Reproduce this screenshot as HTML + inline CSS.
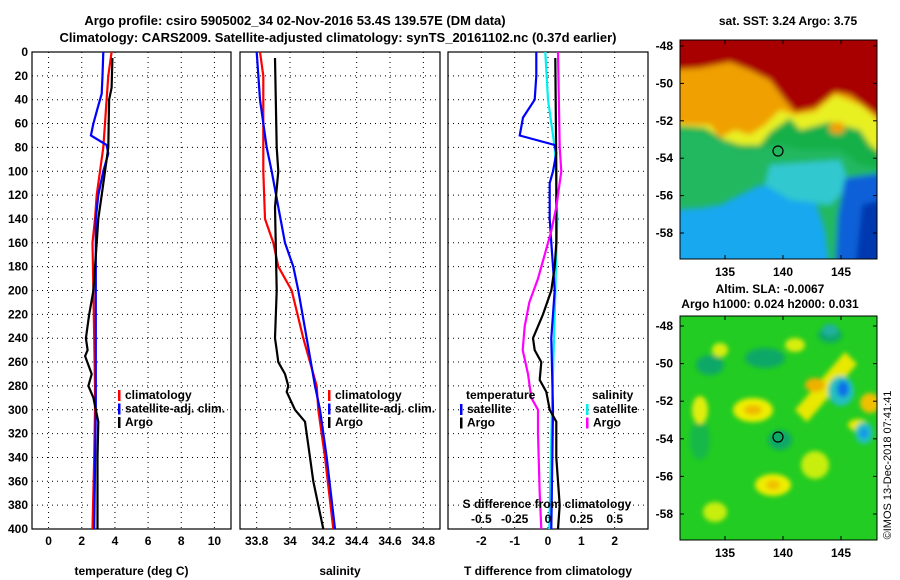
<!DOCTYPE html>
<html><head><meta charset="utf-8"><style>
html,body{margin:0;padding:0;background:#fff;}
svg{display:block;font-family:"Liberation Sans",Arial,sans-serif;font-weight:bold;}
text{font-size:12px;fill:#000;}
</style></head><body>
<svg id="c" width="900" height="580" viewBox="0 0 900 580" xmlns="http://www.w3.org/2000/svg">
<text x="295" y="25" text-anchor="middle" style="font-size:13px">Argo profile: csiro 5905002_34 02-Nov-2016 53.4S 139.57E (DM data)</text>
<text x="338" y="42" text-anchor="middle" style="font-size:13px">Climatology: CARS2009. Satellite-adjusted climatology: synTS_20161102.nc (0.37d earlier)</text>
<g id="plots"></g>

<!-- SST map -->
<g>
<clipPath id="m1"><rect x="680" y="40" width="197" height="219"/></clipPath>
<defs><filter id="bl"><feGaussianBlur stdDeviation="3"/></filter><filter id="bl2"><feGaussianBlur stdDeviation="2.5"/></filter></defs>
<g clip-path="url(#m1)">
<rect x="680" y="40" width="197" height="219" fill="#18a8f0"/>
<g filter="url(#bl)">
<path d="M670 30 H890 V270 H830 L825 230 L815 200 L790 190 L760 185 L740 195 L720 205 L700 208 L670 210 Z" fill="#20b860"/>
<path d="M670 30 H890 V190 L860 180 L840 165 L820 158 L790 160 L770 170 L750 180 L730 185 L700 195 L670 195 Z" fill="#20b860"/>
<path d="M770 165 L840 160 L850 185 L830 205 L790 200 L765 185 Z" fill="#30c8d0"/>
<path d="M845 178 L890 172 V270 H835 L838 215 Z" fill="#1060d8"/>
<path d="M862 205 L890 198 V270 H855 Z" fill="#0038b0"/>
<path d="M670 30 H890 V170 L860 165 L840 150 L800 150 L780 145 L760 148 L740 150 L720 140 L700 132 L670 128 Z" fill="#18b048"/>
<path d="M670 30 H890 V160 L870 145 L860 130 L830 122 L800 130 L790 118 L770 132 L760 145 L740 145 L725 140 L705 128 L670 125 Z" fill="#e8f020"/>
<path d="M670 30 H890 V130 L860 105 L835 95 L815 112 L795 115 L780 110 L765 125 L750 135 L735 130 L720 138 L710 125 L690 125 L670 122 Z" fill="#f0a000"/>
<path d="M670 30 H890 V125 L870 110 L850 95 L835 92 L815 108 L795 112 L785 100 L770 80 L750 70 L730 62 L700 68 L670 70 Z" fill="#a80000"/>
<ellipse cx="837" cy="128" rx="8" ry="6" fill="#f0a000"/>
</g></g>
<rect x="680" y="40" width="197" height="219" fill="none" stroke="#000"/>
<circle cx="778" cy="151" r="5" fill="none" stroke="#000" stroke-width="1.2"/>
</g>

<!-- SLA map -->
<g>
<clipPath id="m2"><rect x="680" y="316" width="197" height="224"/></clipPath>
<g clip-path="url(#m2)">
<rect x="680" y="316" width="197" height="224" fill="#22cc22"/>
<g filter="url(#bl2)">
<ellipse cx="710" cy="365" rx="14" ry="10" fill="#10a868"/>
<ellipse cx="765" cy="358" rx="20" ry="10" fill="#10a868"/>
<ellipse cx="830" cy="335" rx="12" ry="8" fill="#10a868"/>
<ellipse cx="780" cy="440" rx="12" ry="10" fill="#10a868"/>
<ellipse cx="700" cy="440" rx="10" ry="20" fill="#18b848"/>
<path d="M795 410 L845 352 L857 364 L807 422 Z" fill="#e8e800"/>
<ellipse cx="815" cy="385" rx="10" ry="7" fill="#f0b000"/>
<ellipse cx="753" cy="410" rx="20" ry="12" fill="#eeee00"/>
<ellipse cx="753" cy="410" rx="9" ry="5" fill="#f0b800"/>
<ellipse cx="700" cy="410" rx="8" ry="14" fill="#e0ee10"/>
<ellipse cx="773" cy="485" rx="18" ry="11" fill="#eeee00"/>
<ellipse cx="773" cy="485" rx="7" ry="5" fill="#f0c000"/>
<ellipse cx="715" cy="512" rx="12" ry="10" fill="#c8ee10"/>
<ellipse cx="815" cy="465" rx="14" ry="14" fill="#c8ee10"/>
<ellipse cx="858" cy="425" rx="10" ry="6" fill="#e8e800"/>
<ellipse cx="870" cy="403" rx="10" ry="10" fill="#f0c000"/>
<ellipse cx="720" cy="350" rx="8" ry="7" fill="#d8ee10"/>
<ellipse cx="795" cy="345" rx="10" ry="7" fill="#d8ee10"/>
<ellipse cx="841" cy="391" rx="13" ry="15" fill="#20c0c0"/>
<ellipse cx="843" cy="389" rx="6" ry="8" fill="#1070e8"/>
<ellipse cx="864" cy="433" rx="9" ry="11" fill="#20c0c0"/>
<ellipse cx="864" cy="433" rx="4" ry="5" fill="#1890f0"/>
<ellipse cx="830" cy="330" rx="8" ry="6" fill="#20b0a0"/>
</g></g>
<rect x="680" y="316" width="197" height="224" fill="none" stroke="#000"/>
<circle cx="778" cy="437" r="5" fill="none" stroke="#000" stroke-width="1.2"/>
</g>
<g id="maps"></g>
<text x="788" y="25" text-anchor="middle">sat. SST: 3.24 Argo: 3.75</text>
<text x="770" y="293" text-anchor="middle">Altim. SLA: -0.0067</text>
<text x="770" y="308" text-anchor="middle">Argo h1000: 0.024 h2000: 0.031</text>
<text transform="translate(891,465) rotate(-90)" text-anchor="middle" style="font-weight:normal;font-size:11px">©IMOS 13-Dec-2018 07:41:41</text>
</svg>
<script>
const depths = [0,400];
const depthTicks = [0,20,40,60,80,100,120,140,160,180,200,220,240,260,280,300,320,340,360,380,400];
// Temperature panel
const tClimZ = [0,20,40,60,80,100,120,140,160,200,240,280,300,340,400];
const tClim  = [3.8,3.6,3.5,3.4,3.3,3.1,2.9,2.8,2.65,2.7,2.75,2.8,2.8,2.75,2.65];
const tSatZ = [0,20,35,45,60,70,78,85,100,120,140,160,200,300,400];
const tSat  = [3.3,3.25,3.2,3.0,2.7,2.55,3.5,3.6,3.3,3.0,2.85,2.85,2.85,2.85,2.75];
const tArgoZ = [5,30,40,80,100,120,140,160,200,220,240,250,255,270,280,290,300,310,340,400];
const tArgo  = [3.85,3.8,3.65,3.6,3.4,3.2,3.0,2.9,2.7,2.45,2.25,2.35,2.2,2.6,2.4,2.7,2.85,3.0,2.95,2.95];
const tTicks = [0,2,4,6,8,10];
// Salinity panel
const sClimZ = [0,20,100,140,160,180,200,240,260,280,300,340,400];
const sClim  = [33.82,33.84,33.84,33.85,33.9,33.93,34.01,34.08,34.12,34.16,34.17,34.21,34.26];
const sSatZ = [0,40,80,100,130,160,180,200,240,280,300,340,400];
const sSat  = [33.8,33.82,33.86,33.89,33.93,33.97,34.02,34.05,34.1,34.15,34.18,34.22,34.27];
const sArgoZ = [5,80,100,130,200,240,250,260,270,280,285,300,310,340,360,400];
const sArgo  = [33.91,33.92,33.93,33.91,33.92,33.91,33.92,33.93,33.97,33.99,33.98,34.03,34.09,34.12,34.14,34.2];
const sTicks = [33.8,34,34.2,34.4,34.6,34.8];
// Difference panel
const dTSatZ = [0,20,40,55,70,78,85,100,110,140,160,200,240,300,400];
const dTSat  = [-0.35,-0.35,-0.4,-0.75,-0.85,0.2,0.25,0.15,0.05,0.05,0.1,0.2,0.1,0.15,0.1];
const dTArgoZ = [5,100,140,160,180,200,220,240,250,260,275,285,300,310,340,380,400];
const dTArgo  = [0.22,0.25,0.25,0.25,0.2,0.1,-0.15,-0.45,-0.4,-0.2,-0.25,-0.05,0.05,0.25,0.25,0.35,0.3];
const dSSatZ = [0,40,80,100,140,180,220,260,300,400];
const dSSat  = [-0.02,0,0.05,0.06,0.07,0.06,0.05,0.04,0.03,0.01];
const dSArgoZ = [0,80,100,130,150,170,190,210,230,250,270,290,300,320,370,400];
const dSArgo  = [0.075,0.088,0.1,0.062,0.025,-0.025,-0.075,-0.14,-0.175,-0.19,-0.15,-0.125,-0.075,-0.075,-0.062,-0.05];
const dTTicks = [-2,-1,0,1,2];
const dSTicks = [-0.5,-0.25,0,0.25,0.5];
const latTicks = [-48,-50,-52,-54,-56,-58];
const lonTicks = [135,140,145];

const NS='http://www.w3.org/2000/svg';
const g=document.getElementById('plots');
function el(t,a,p){const e=document.createElementNS(NS,t);for(const k in a)e.setAttribute(k,a[k]);(p||g).appendChild(e);return e;}
const Y0=52,Y1=529;
const y=z=>Y0+(z-depths[0])/(depths[1]-depths[0])*(Y1-Y0);

function panel(name,x0,x1,vmin,vmax,ticks,lbl,title){
  const x=v=>x0+(v-vmin)/(vmax-vmin)*(x1-x0);
  const pg=el('g',{});
  
  
  ticks.forEach(t=>{
    const l=el('line',{x1:x(t),x2:x(t),y1:Y0,y2:Y1,stroke:'#000','stroke-width':1,'stroke-dasharray':'1,4'},pg);
    
    
    const tx=el('text',{x:x(t),y:Y1+16,'text-anchor':'middle'},pg);tx.textContent=lbl(t);
    
    
  });
  depthTicks.forEach(d=>{
    if(d>0&&d<400){const l=el('line',{x1:x0,x2:x1,y1:y(d),y2:y(d),stroke:'#000','stroke-width':1,'stroke-dasharray':'1,4'},pg);
    
    }
  });
  const r=el('rect',{x:x0,y:Y0,width:x1-x0,height:Y1-Y0,fill:'none',stroke:'#000','stroke-width':1.2},pg);
  
  
  const tt=el('text',{x:(x0+x1)/2,y:575,'text-anchor':'middle'},pg);tt.textContent=title;
  
  
  return {x,pg};
}
function line(p,zs,vs,col,name,scale){
  const pts=zs.map((z,i)=>p.x(vs[i]*(scale||1)).toFixed(1)+','+y(z).toFixed(1)).join(' ');
  const e=el('polyline',{points:pts,fill:'none',stroke:col,'stroke-width':2.2},p.pg);
  
  
}
function legend(pg,x0,y0,items,head){
  if(head){const h=el('text',{x:x0+6,y:y0-14},pg);h.textContent=head;
    
    }
  items.forEach((it,i)=>{
    const yy=y0+i*13.5;
    const b=el('rect',{x:x0,y:yy-9,width:2.5,height:11,fill:it[1]},pg);
    
    
    const t=el('text',{x:x0+7,y:yy},pg);t.textContent=it[0];
    
    
  });
}
// depth labels
depthTicks.forEach(d=>{const t=el('text',{x:28,y:y(d)+4,'text-anchor':'end'});t.textContent=d;
  
  });

const p1=panel('temperature-panel',32,231,-1,11,tTicks,t=>t,'temperature (deg C)');
line(p1,tClimZ,tClim,'#f00','temp-climatology-line');
line(p1,tSatZ,tSat,'#00f','temp-satellite-line');
line(p1,tArgoZ,tArgo,'#000','temp-argo-line');
legend(p1.pg,118,399,[['climatology','#f00'],['satellite-adj. clim.','#00f'],['Argo','#000']]);

const p2=panel('salinity-panel',240,440,33.7,34.9,sTicks,t=>t==34?'34':t.toFixed(1),'salinity');
line(p2,sClimZ,sClim,'#f00','sal-climatology-line');
line(p2,sSatZ,sSat,'#00f','sal-satellite-line');
line(p2,sArgoZ,sArgo,'#000','sal-argo-line');
legend(p2.pg,328,399,[['climatology','#f00'],['satellite-adj. clim.','#00f'],['Argo','#000']]);

const p3=panel('difference-panel',448,648,-3,3,dTTicks,t=>t,'T difference from climatology');
line(p3,dSSatZ,dSSat,'#00f0f0','sal-diff-satellite-line',4);
line(p3,dTSatZ,dTSat,'#00f','temp-diff-satellite-line');
line(p3,dTArgoZ,dTArgo,'#000','temp-diff-argo-line');
line(p3,dSArgoZ,dSArgo,'#f0f','sal-diff-argo-line',4);
legend(p3.pg,460,413,[['satellite','#00f'],['Argo','#000']],'temperature');
legend(p3.pg,586,413,[['satellite','#00f0f0'],['Argo','#f0f']],'salinity');
const st=el('text',{x:547,y:508,'text-anchor':'middle'},p3.pg);st.textContent='S difference from climatology';


dSTicks.forEach(s=>{const t=el('text',{x:p3.x(s*4),y:523,'text-anchor':'middle'},p3.pg);t.textContent=s;
  
  });

// map axes
const mg=document.getElementById('maps');
function mapAxes(name,top,bottom,lat48y,lat58y){
  const lx=lon=>783+(lon-140)*11.6;
  const ly=lat=>lat48y+(lat+48)/(-10)*(lat58y-lat48y);
  latTicks.forEach(l=>{
    const t=el('text',{x:673,y:ly(l)+4,'text-anchor':'end'},mg);t.textContent=l;
    
    
    el('line',{x1:680,x2:684,y1:ly(l),y2:ly(l),stroke:'#000'},mg);
    el('line',{x1:873,x2:877,y1:ly(l),y2:ly(l),stroke:'#000'},mg);
  });
  lonTicks.forEach(l=>{
    const t=el('text',{x:lx(l),y:bottom+17,'text-anchor':'middle'},mg);t.textContent=l;
    
    
    el('line',{x1:lx(l),x2:lx(l),y1:bottom,y2:bottom-4,stroke:'#000'},mg);
    el('line',{x1:lx(l),x2:lx(l),y1:top,y2:top+4,stroke:'#000'},mg);
  });
}
mapAxes('sst-map',40,259,46,233);
mapAxes('sla-map',316,540,326,514);
</script>
</body></html>
